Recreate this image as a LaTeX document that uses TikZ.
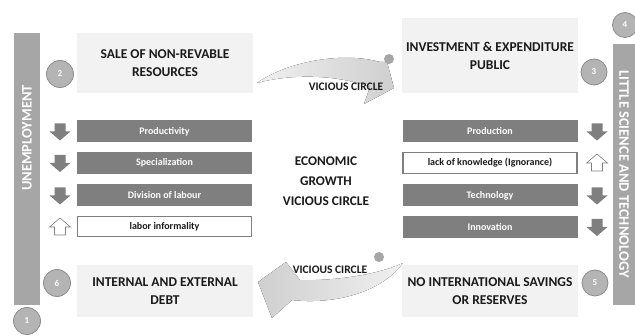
\documentclass[tikz,border=0pt]{standalone}
\usepackage{fontspec}
\setmainfont{Carlito}
\definecolor{boxgray}{HTML}{F2F2F2}
\definecolor{bargray}{HTML}{7F7F7F}
\definecolor{circgray}{HTML}{B4B4B4}
\definecolor{circedge}{HTML}{8C8C8C}
\definecolor{sidegray}{HTML}{A6A6A6}
\definecolor{arrdark}{HTML}{CFCFCF}
\definecolor{arrlight}{HTML}{F0F0F0}
\definecolor{dotgray}{HTML}{A6A6A6}
\definecolor{txt}{HTML}{1A1A1A}
\begin{document}
\begin{tikzpicture}[x=1pt,y=-1pt,
 titlebox/.style={fill=boxgray, minimum width=176pt, align=center, text=txt, font=\fontsize{13.5}{18}\selectfont\bfseries, inner sep=0pt},
 darkbar/.style={fill=bargray, text=white, minimum width=175pt, minimum height=22pt, font=\fontsize{10}{12}\selectfont\bfseries, inner sep=0pt},
 whitebar/.style={draw=bargray, line width=1.2pt, fill=white, text=txt, minimum width=174pt, minimum height=20.5pt, font=\fontsize{10}{12}\selectfont\bfseries, inner sep=0pt},
 numcirc/.style={circle, fill=circgray, draw=circedge, line width=0.8pt, text=white, font=\fontsize{9}{10}\selectfont\bfseries, minimum size=27pt, inner sep=0pt},
 sidebar/.style={fill=sidegray, inner sep=0pt},
 sidetext/.style={text=white, font=\fontsize{14.5}{16}\selectfont\bfseries, inner sep=0pt},
 vclabel/.style={text=txt, font=\fontsize{11.5}{13}\selectfont\bfseries, inner sep=0pt},
 dot/.style={circle, fill=dotgray, minimum size=10pt, inner sep=0pt},
 downarr/.pic={\fill[bargray] (-5.5,-8) -- (5.5,-8) -- (5.5,0) -- (10.5,0) -- (0,9) -- (-10.5,0) -- (-5.5,0) -- cycle;},
 uparr/.pic={\draw[bargray, line width=0.6pt, fill=white] (-5.5,8) -- (5.5,8) -- (5.5,0) -- (10.5,0) -- (0,-9) -- (-10.5,0) -- (-5.5,0) -- cycle;}
]
\useasboundingbox (0,0) rectangle (635,336);

% side bars
\node[sidebar, minimum width=26pt, minimum height=272pt] (lbar) at (27,169) {};
\node[sidetext, rotate=90] (lbartext) at (27,138) {UNEMPLOYMENT};
\node[sidebar, minimum width=22pt, minimum height=261pt] (rbar) at (624,174.5) {};
\node[sidetext, rotate=-90] (rbartext) at (624,174) {LITTLE SCIENCE AND TECHNOLOGY};

% title boxes
\node[titlebox, minimum height=60pt] (sale) at (165,63) {SALE OF NON-REVABLE\\RESOURCES};
\node[titlebox, minimum height=75pt] (invest) at (490,55.5) {INVESTMENT \& EXPENDITURE\\PUBLIC};
\node[titlebox, minimum height=52pt] (debt) at (165,291) {INTERNAL AND EXTERNAL\\DEBT};
\node[titlebox, minimum height=52pt] (savings) at (490,291) {NO INTERNATIONAL SAVINGS\\OR RESERVES};

% left bars
\node[darkbar] (prod) at (164.5,131.5) {Productivity};
\node[darkbar] (spec) at (164.5,163) {Specialization};
\node[darkbar] (div) at (164.5,195.5) {Division of labour};
\node[whitebar] (inf) at (164.5,226.5) {labor informality};
% right bars
\node[darkbar] (production) at (490,131.5) {Production};
\node[whitebar] (ign) at (490,163) {lack of knowledge (Ignorance)};
\node[darkbar] (tech) at (490,195.5) {Technology};
\node[darkbar] (innov) at (490,227) {Innovation};

% arrow icons
\pic at (60,131.5) {downarr};
\pic at (60,163) {downarr};
\pic at (60,195.5) {downarr};
\pic at (60,227) {uparr};
\pic at (597,131.5) {downarr};
\pic at (597,163) {uparr};
\pic at (597,195.5) {downarr};
\pic at (597,227) {downarr};

% centre text
\node[text=txt, align=center, font=\fontsize{13.3}{20}\selectfont\bfseries, inner sep=0pt] (centre) at (326,181) {ECONOMIC\\GROWTH\\VICIOUS CIRCLE};

% curved arrows
\fill[left color=arrlight, right color=arrdark] (257,83) .. controls (290,60) and (345,52) .. (380,62) -- (387,62) -- (394,88) -- (364,104) -- (370,87) .. controls (335,74) and (290,74) .. (257,83) -- cycle;
\fill[left color=arrdark, right color=arrlight] (403,263) .. controls (375,276) and (330,281) .. (300,280) -- (286,262) -- (258,282) -- (272,318) -- (292,300) .. controls (335,305) and (382,292) .. (403,263) -- cycle;
\node[vclabel] (vc1) at (346,87) {VICIOUS CIRCLE};
\node[vclabel] (vc2) at (330,270) {VICIOUS CIRCLE};
\node[dot] (d1) at (389,59) {};
\node[dot] (d2) at (379,257) {};

% numbered circles
\node[numcirc] (c1) at (27,321) {1};
\node[numcirc] (c2) at (60,74) {2};
\node[numcirc, minimum size=26pt] (c3) at (594,72) {3};
\node[numcirc, minimum size=25pt] (c4) at (625,25) {4};
\node[numcirc, minimum size=26pt] (c5) at (595,283) {5};
\node[numcirc] (c6) at (57,283) {6};
\end{tikzpicture}
\end{document}
